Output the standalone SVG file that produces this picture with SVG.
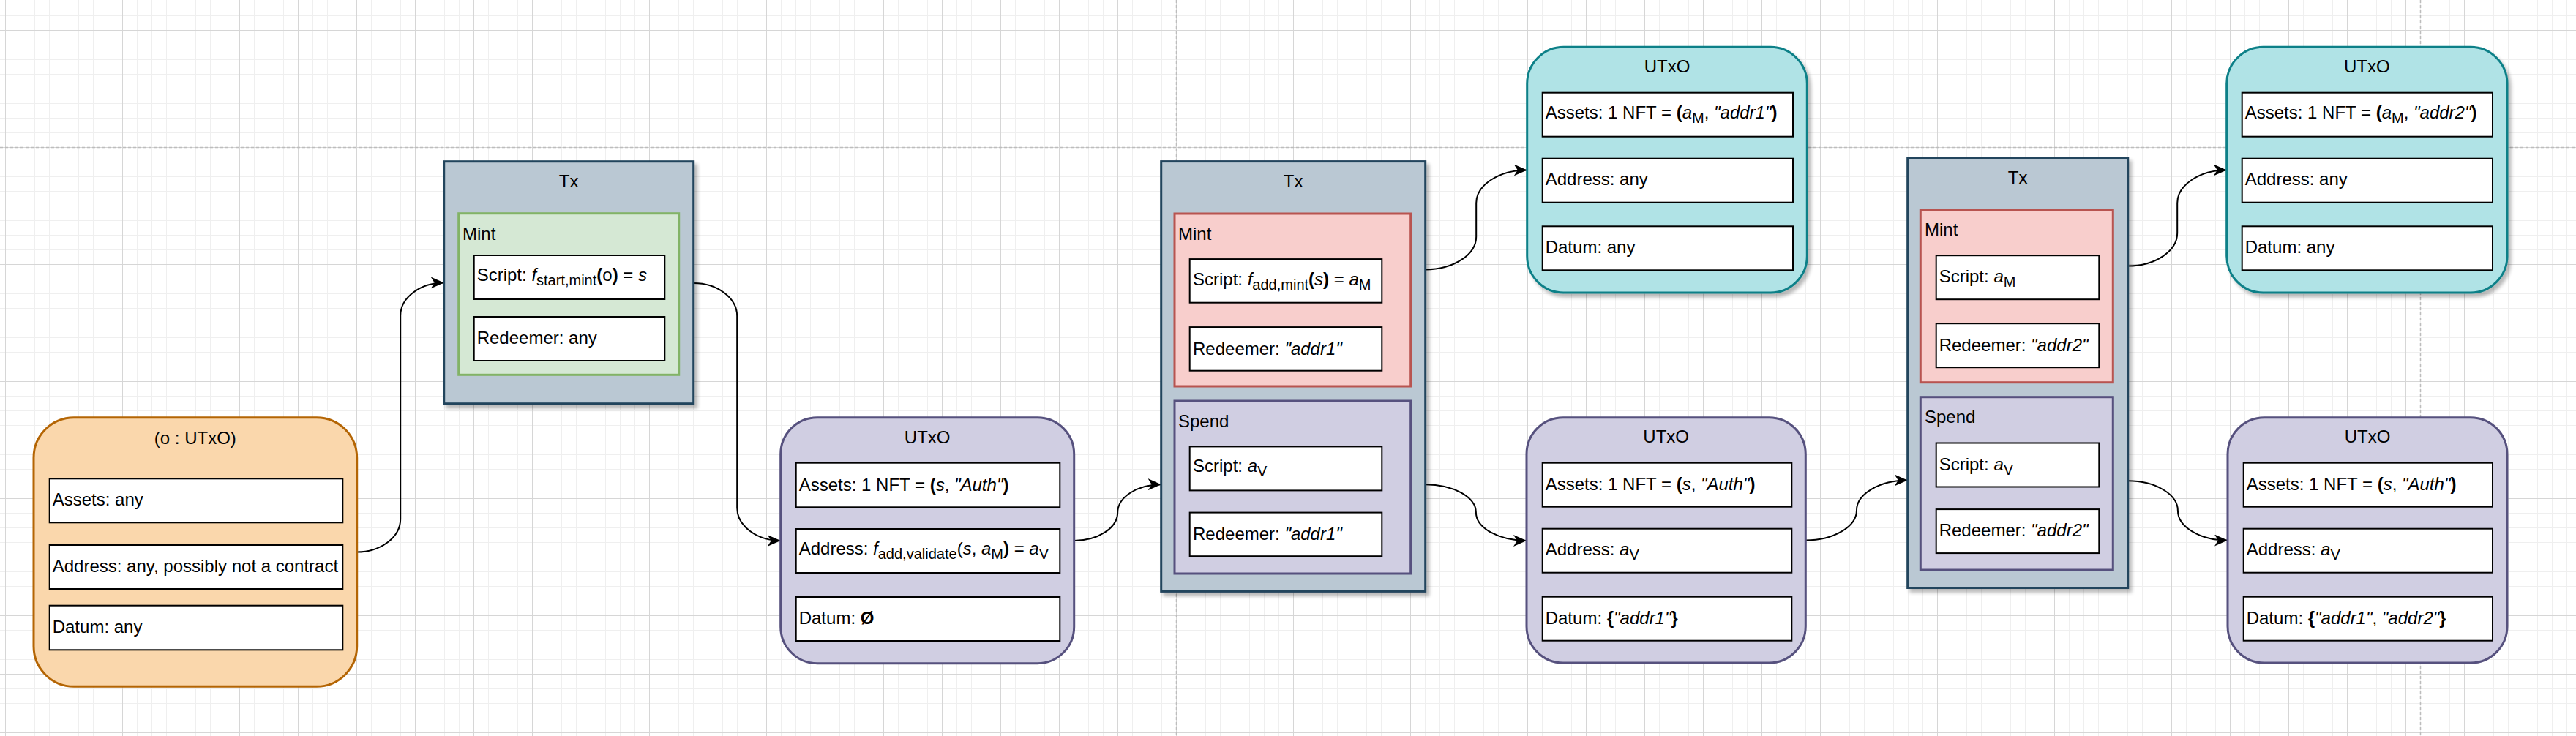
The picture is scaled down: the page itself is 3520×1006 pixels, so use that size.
<svg xmlns="http://www.w3.org/2000/svg" width="3520" height="1006" viewBox="0 0 3520 1006">
<defs>
<pattern id="grid" width="80" height="80" patternUnits="userSpaceOnUse" x="7" y="41">
<path d="M0 20.5H80M0 40.5H80M0 60.5H80M20.5 0V80M40.5 0V80M60.5 0V80" stroke="#efefef" stroke-width="1" fill="none"/>
<path d="M0 0.5H80M0.5 0V80" stroke="#d6d6d6" stroke-width="1" fill="none"/>
</pattern>
<filter id="sh" x="-10%" y="-10%" width="130%" height="130%">
<feGaussianBlur in="SourceAlpha" stdDeviation="2.5"/>
<feOffset dx="4" dy="5" result="o"/>
<feComponentTransfer><feFuncA type="linear" slope="0.28"/></feComponentTransfer>
<feMerge><feMergeNode/><feMergeNode in="SourceGraphic"/></feMerge>
</filter>
<marker id="arr" viewBox="0 0 18 16" refX="18" refY="8" markerWidth="18" markerHeight="16" markerUnits="userSpaceOnUse" orient="auto">
<path d="M0,0 L18,8 L0,16 L5,8 Z" fill="#000"/>
</marker>
<style>
.t{font-family:"Liberation Sans",Arial,sans-serif;font-size:24px;fill:#000}
.c{text-anchor:middle}
.i{font-style:italic}
.b{font-weight:bold}
.s{font-size:20px}
.f{fill:#fff;stroke:#000;stroke-width:2}
.tx{fill:#bac8d3;stroke:#23445d;stroke-width:3}
.mg{fill:#d5e8d4;stroke:#82b366;stroke-width:3}
.mr{fill:#f8cecc;stroke:#b85450;stroke-width:3}
.sp{fill:#d0cee2;stroke:#56517e;stroke-width:3}
.pu{fill:#d0cee2;stroke:#56517e;stroke-width:3}
.cy{fill:#b0e3e6;stroke:#0e8088;stroke-width:3}
.or{fill:#fad7ac;stroke:#b46504;stroke-width:3}
.e{fill:none;stroke:#000;stroke-width:2;marker-end:url(#arr)}
.pb{stroke:#bdbdbd;stroke-width:1.5;stroke-dasharray:4 3;fill:none}
</style>
</defs>
<rect x="0" y="0" width="3520" height="1006" fill="#fff"/>
<rect x="0" y="0" width="3520" height="1006" fill="url(#grid)"/>
<path class="pb" d="M0 201.5H3520M1607.5 0V1006M3307.5 0V1006"/>

<g id="connectors">
<path class="e" d="M487.7 754.5 C520.4 754.5 547.2 734.3 547.2 709.5 L547.2 431.5 C547.2 406.8 574 386.5 606.7 386.5"/>
<path class="e" d="M947.7 387 C980.4 387 1007.2 407.3 1007.2 432 L1007.2 694 C1007.2 718.8 1034 739 1066.7 739"/>
<path class="e" d="M1467.7 739 C1500.4 739 1527.2 721.7 1527.2 700.6 C1527.2 679.5 1554 662.2 1586.7 662.2"/>
<path class="e" d="M1947.7 368.4 C1985.9 368.4 2017.2 348.2 2017.2 323.4 L2017.2 277.5 C2017.2 252.8 2048.5 232.5 2086.7 232.5"/>
<path class="e" d="M1947.7 662.2 C1985.7 662.2 2016.9 679.5 2016.9 700.6 C2016.9 721.7 2048 739 2086 739"/>
<path class="e" d="M2467.3 738.5 C2505.6 738.5 2537 720 2537 697.5 C2537 675 2568.4 656.5 2606.7 656.5"/>
<path class="e" d="M2907.7 363.5 C2944.8 363.5 2975.2 343.3 2975.2 318.5 L2975.2 277.5 C2975.2 252.8 3005.6 232.5 3042.7 232.5"/>
<path class="e" d="M2907.7 657.3 C2945.2 657.3 2975.9 675.6 2975.9 697.9 C2975.9 720.2 3006.4 738.5 3044 738.5"/>
</g>

<g id="utxo-o">
<rect class="or" x="46" y="570.7" width="441.7" height="367.6" rx="55"/>
<text class="t c" x="266.8" y="606.5">(o : UTxO)</text>
<rect class="f" x="67.7" y="654.3" width="400.6" height="60"/>
<text class="t" x="71.7" y="691.3">Assets: any</text>
<rect class="f" x="67.7" y="745" width="400.6" height="60"/>
<text class="t" x="71.7" y="782">Address: any, possibly not a contract</text>
<rect class="f" x="67.7" y="827.7" width="400.6" height="60.6"/>
<text class="t" x="71.7" y="865">Datum: any</text>
</g>

<g id="tx1">
<rect class="tx" x="606.7" y="220.7" width="341" height="331" filter="url(#sh)"/>
<text class="t c" x="777.2" y="255.7">Tx</text>
<rect class="mg" x="626.7" y="291.7" width="301" height="220.6"/>
<text class="t" x="632" y="327.7">Mint</text>
<rect class="f" x="647.7" y="349" width="260.6" height="60"/>
<text class="t" x="651.7" y="384"><tspan>Script: </tspan><tspan class="i">f</tspan><tspan class="s" dy="6">start,mint</tspan><tspan class="b" dy="-6">(</tspan><tspan>o</tspan><tspan class="b">)</tspan><tspan> = </tspan><tspan class="i">s</tspan></text>
<rect class="f" x="647.7" y="433" width="260.6" height="60"/>
<text class="t" x="651.7" y="470">Redeemer: any</text>
</g>

<g id="utxo-1">
<rect class="pu" x="1066.7" y="570.7" width="401" height="336" rx="50"/>
<text class="t c" x="1267.2" y="605.7">UTxO</text>
<rect class="f" x="1087.7" y="632.7" width="360.6" height="60.6"/>
<text class="t" x="1091.7" y="670.5"><tspan>Assets: 1 NFT = </tspan><tspan class="b">(</tspan><tspan class="i">s</tspan><tspan>, </tspan><tspan class="i">"Auth"</tspan><tspan class="b">)</tspan></text>
<rect class="f" x="1087.7" y="723" width="360.6" height="60"/>
<text class="t" x="1091.7" y="758"><tspan>Address: </tspan><tspan class="i">f</tspan><tspan class="s" dy="6">add,validate</tspan><tspan dy="-6">(</tspan><tspan class="i">s</tspan><tspan>, </tspan><tspan class="i">a</tspan><tspan class="s" dy="6">M</tspan><tspan class="b" dy="-6">)</tspan><tspan> = </tspan><tspan class="i">a</tspan><tspan class="s" dy="6">V</tspan></text>
<rect class="f" x="1087.7" y="816" width="360.6" height="60"/>
<text class="t" x="1091.7" y="852.5"><tspan>Datum: </tspan><tspan class="b">Ø</tspan></text>
</g>

<g id="tx2">
<rect class="tx" x="1586.7" y="220.6" width="361" height="587.8" filter="url(#sh)"/>
<text class="t c" x="1767.2" y="256">Tx</text>
<rect class="mr" x="1605" y="292" width="322.7" height="236"/>
<text class="t" x="1610" y="328">Mint</text>
<rect class="f" x="1625.7" y="354.1" width="262.6" height="59.6"/>
<text class="t" x="1630" y="389.5"><tspan>Script: </tspan><tspan class="i">f</tspan><tspan class="s" dy="6">add,mint</tspan><tspan class="b" dy="-6">(</tspan><tspan class="i">s</tspan><tspan class="b">)</tspan><tspan> = </tspan><tspan class="i">a</tspan><tspan class="s" dy="6">M</tspan></text>
<rect class="f" x="1625.7" y="447.1" width="262.6" height="59.6"/>
<text class="t" x="1630" y="484.5"><tspan>Redeemer: </tspan><tspan class="i">"addr1"</tspan></text>
<rect class="sp" x="1605" y="548" width="322.7" height="236"/>
<text class="t" x="1610" y="584">Spend</text>
<rect class="f" x="1625.7" y="610.4" width="262.6" height="60"/>
<text class="t" x="1630" y="645"><tspan>Script: </tspan><tspan class="i">a</tspan><tspan class="s" dy="6">V</tspan></text>
<rect class="f" x="1625.7" y="700.6" width="262.6" height="59.6"/>
<text class="t" x="1630" y="737.8"><tspan>Redeemer: </tspan><tspan class="i">"addr1"</tspan></text>
</g>

<g id="utxo-2a">
<rect class="cy" x="2086.7" y="64.3" width="382.6" height="335.7" rx="50" filter="url(#sh)"/>
<text class="t c" x="2278" y="99.3">UTxO</text>
<rect class="f" x="2107.7" y="126.7" width="342.3" height="60"/>
<text class="t" x="2111.7" y="161.5"><tspan>Assets: 1 NFT = </tspan><tspan class="b">(</tspan><tspan class="i">a</tspan><tspan class="s" dy="6">M</tspan><tspan dy="-6">, </tspan><tspan class="i">"addr1"</tspan><tspan class="b">)</tspan></text>
<rect class="f" x="2107.7" y="216.7" width="342.3" height="60"/>
<text class="t" x="2111.7" y="253">Address: any</text>
<rect class="f" x="2107.7" y="309.3" width="342.3" height="60"/>
<text class="t" x="2111.7" y="346">Datum: any</text>
</g>

<g id="utxo-2b">
<rect class="pu" x="2086" y="570.7" width="381.3" height="335.3" rx="50"/>
<text class="t c" x="2276.7" y="605">UTxO</text>
<rect class="f" x="2107.7" y="632.7" width="340.6" height="60"/>
<text class="t" x="2111.7" y="670.2"><tspan>Assets: 1 NFT = </tspan><tspan class="b">(</tspan><tspan class="i">s</tspan><tspan>, </tspan><tspan class="i">"Auth"</tspan><tspan class="b">)</tspan></text>
<rect class="f" x="2107.7" y="722.7" width="340.6" height="60"/>
<text class="t" x="2111.7" y="759"><tspan>Address: </tspan><tspan class="i">a</tspan><tspan class="s" dy="6">V</tspan></text>
<rect class="f" x="2107.7" y="815.7" width="340.6" height="60"/>
<text class="t" x="2111.7" y="852.5"><tspan>Datum: </tspan><tspan class="b">{</tspan><tspan class="i">"addr1"</tspan><tspan class="b">}</tspan></text>
</g>

<g id="tx3">
<rect class="tx" x="2606.7" y="215.7" width="301" height="587.8" filter="url(#sh)"/>
<text class="t c" x="2757.2" y="251.2">Tx</text>
<rect class="mr" x="2624.3" y="286.7" width="263" height="236"/>
<text class="t" x="2630" y="321.8">Mint</text>
<rect class="f" x="2645.7" y="349.2" width="222.6" height="60"/>
<text class="t" x="2649.7" y="385.5"><tspan>Script: </tspan><tspan class="i">a</tspan><tspan class="s" dy="6">M</tspan></text>
<rect class="f" x="2645.7" y="442.2" width="222.6" height="60"/>
<text class="t" x="2649.7" y="480"><tspan>Redeemer: </tspan><tspan class="i">"addr2"</tspan></text>
<rect class="sp" x="2624.3" y="542.7" width="263" height="236.3"/>
<text class="t" x="2630" y="577.8">Spend</text>
<rect class="f" x="2645.7" y="605.5" width="222.6" height="60"/>
<text class="t" x="2649.7" y="642.5"><tspan>Script: </tspan><tspan class="i">a</tspan><tspan class="s" dy="6">V</tspan></text>
<rect class="f" x="2645.7" y="696.1" width="222.6" height="60"/>
<text class="t" x="2649.7" y="733"><tspan>Redeemer: </tspan><tspan class="i">"addr2"</tspan></text>
</g>

<g id="utxo-3a">
<rect class="cy" x="3042.7" y="64.3" width="383.3" height="335.7" rx="50" filter="url(#sh)"/>
<text class="t c" x="3234.3" y="99.3">UTxO</text>
<rect class="f" x="3063.7" y="126.7" width="342.3" height="60"/>
<text class="t" x="3067.7" y="161.5"><tspan>Assets: 1 NFT = </tspan><tspan class="b">(</tspan><tspan class="i">a</tspan><tspan class="s" dy="6">M</tspan><tspan dy="-6">, </tspan><tspan class="i">"addr2"</tspan><tspan class="b">)</tspan></text>
<rect class="f" x="3063.7" y="216.7" width="342.3" height="60"/>
<text class="t" x="3067.7" y="253">Address: any</text>
<rect class="f" x="3063.7" y="309.3" width="342.3" height="60"/>
<text class="t" x="3067.7" y="346">Datum: any</text>
</g>

<g id="utxo-3b">
<rect class="pu" x="3044" y="570.7" width="382" height="335.3" rx="50"/>
<text class="t c" x="3235" y="605">UTxO</text>
<rect class="f" x="3065.7" y="632.7" width="340.3" height="60"/>
<text class="t" x="3069.7" y="670.2"><tspan>Assets: 1 NFT = </tspan><tspan class="b">(</tspan><tspan class="i">s</tspan><tspan>, </tspan><tspan class="i">"Auth"</tspan><tspan class="b">)</tspan></text>
<rect class="f" x="3065.7" y="722.7" width="340.3" height="60"/>
<text class="t" x="3069.7" y="759"><tspan>Address: </tspan><tspan class="i">a</tspan><tspan class="s" dy="6">V</tspan></text>
<rect class="f" x="3065.7" y="815.7" width="340.3" height="60"/>
<text class="t" x="3069.7" y="852.5"><tspan>Datum: </tspan><tspan class="b">{</tspan><tspan class="i">"addr1"</tspan><tspan>, </tspan><tspan class="i">"addr2"</tspan><tspan class="b">}</tspan></text>
</g>
</svg>
